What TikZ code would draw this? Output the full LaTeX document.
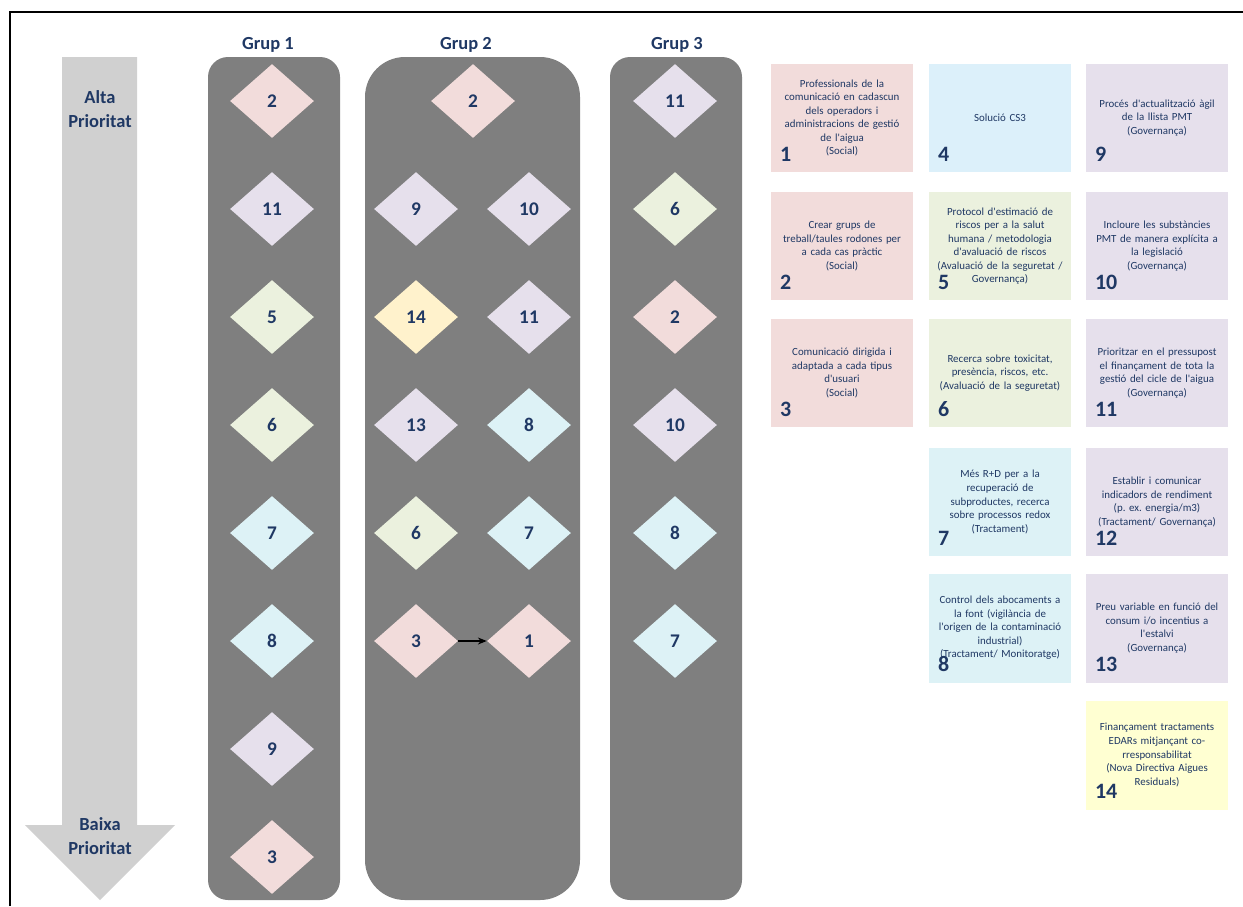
\documentclass[tikz,border=0pt]{standalone}
\usepackage{fontspec}
\setmainfont{Carlito}[Ligatures=TeXOff]
\usetikzlibrary{shapes,arrows.meta}
\frenchspacing

\definecolor{navy}{HTML}{1F3864}
\definecolor{rosa}{HTML}{F2DCDB}
\definecolor{lila}{HTML}{E6E0EC}
\definecolor{verd}{HTML}{EBF1DE}
\definecolor{cian}{HTML}{DDF2F6}
\definecolor{blau}{HTML}{DCF0FA}
\definecolor{groc}{HTML}{FFF2CC}
\definecolor{grocclar}{HTML}{FFFFD2}
\definecolor{columna}{HTML}{7F7F7F}
\definecolor{fletxa}{HTML}{D0D0D0}

\tikzset{
  rombe/.style={diamond, fill=#1, inner sep=0pt, minimum width=1.68cm, minimum height=1.48cm,
    font=\fontsize{11}{13}\selectfont\bfseries, text=navy},
  fitxa/.style={rectangle, fill=#1, inner sep=0pt, minimum width=2.84cm, minimum height=2.18cm,
    text width=2.84cm, align=center, font=\fontsize{6.2}{7.7}\selectfont, text=navy},
  num/.style={anchor=base west, inner sep=0pt, font=\fontsize{12.5}{14}\selectfont\bfseries, text=navy},
  titol/.style={font=\fontsize{10.5}{13.5}\selectfont\bfseries, text=navy, align=center},
}

\begin{document}
\begin{tikzpicture}[x=0.02cm,y=-0.02cm]
  \useasboundingbox (0,0) rectangle (1243,906);
  \newcommand{\colu}{272}
  \newcommand{\colda}{416}
  \newcommand{\coldb}{529}
  \newcommand{\colt}{675}

  % marc
  \draw[line width=0.8pt] (10,906) -- (10,12) -- (1243,12);

  % fletxa de prioritat
  \fill[fletxa] (62,57) -- (137,57) -- (137,825) -- (175,825) -- (100,900) -- (25,825) -- (62,825) -- cycle;
  \node[titol] (alta) at (100,109) {Alta\\Prioritat};
  \node[titol] (baixa) at (100,836) {Baixa\\Prioritat};

  % columnes
  \fill[columna, rounded corners=0.4cm] (208,57) rectangle (340,900);
  \fill[columna, rounded corners=0.8cm] (365,57) rectangle (580,900);
  \fill[columna, rounded corners=0.4cm] (610,57) rectangle (742,900);
  \node[titol] (grup1) at (268,45) {Grup 1};
  \node[titol] (grup2) at (466,45) {Grup 2};
  \node[titol] (grup3) at (677,45) {Grup 3};

  % Grup 1
  \node[rombe=rosa] (ua) at (\colu,101) {2};
  \node[rombe=lila] (ub) at (\colu,209) {11};
  \node[rombe=verd] (uc) at (\colu,317) {5};
  \node[rombe=verd] (ud) at (\colu,425) {6};
  \node[rombe=cian] (ue) at (\colu,533) {7};
  \node[rombe=cian] (uf) at (\colu,641) {8};
  \node[rombe=lila] (ug) at (\colu,749) {9};
  \node[rombe=rosa] (uh) at (\colu,857) {3};

  % Grup 2
  \node[rombe=rosa] (da) at (473,101) {2};
  \node[rombe=lila] (db) at (\colda,209) {9};
  \node[rombe=lila] (dc) at (\coldb,209) {10};
  \node[rombe=groc] (dd) at (\colda,317) {14};
  \node[rombe=lila] (de) at (\coldb,317) {11};
  \node[rombe=lila] (df) at (\colda,425) {13};
  \node[rombe=cian] (dg) at (\coldb,425) {8};
  \node[rombe=verd] (dh) at (\colda,533) {6};
  \node[rombe=cian] (di) at (\coldb,533) {7};
  \node[rombe=rosa] (dj) at (\colda,641) {3};
  \node[rombe=rosa] (dk) at (\coldb,641) {1};
  \draw[-{Stealth[length=5pt,width=4pt]}, line width=0.6pt] (dj.east) -- (dk.west);

  % Grup 3
  \node[rombe=lila] (ta) at (\colt,101) {11};
  \node[rombe=verd] (tb) at (\colt,209) {6};
  \node[rombe=rosa] (tc) at (\colt,317) {2};
  \node[rombe=lila] (td) at (\colt,425) {10};
  \node[rombe=cian] (te) at (\colt,533) {8};
  \node[rombe=cian] (tf) at (\colt,641) {7};

  % fitxes de mesures
  \node[fitxa=rosa] (f1) at (842,118) {Professionals de la\\comunicació en cadascun\\dels operadors i\\administracions de gestió\\de l'aigua\\(Social)};
  \node[fitxa=rosa] (f2) at (842,246) {Crear grups de\\treball/taules rodones per\\a cada cas pràctic\\(Social)};
  \node[fitxa=rosa] (f3) at (842,373) {Comunicació dirigida i\\adaptada a cada tipus\\d'usuari\\(Social)};
  \node[fitxa=blau] (f4) at (1000,118) {Solució CS3};
  \node[fitxa=verd] (f5) at (1000,246) {Protocol d'estimació de\\riscos per a la salut\\humana / metodologia\\d'avaluació de riscos\\(Avaluació de la seguretat /\\Governança)};
  \node[fitxa=verd] (f6) at (1000,373) {Recerca sobre toxicitat,\\presència, riscos, etc.\\(Avaluació de la seguretat)};
  \node[fitxa=cian] (f7) at (1000,502) {Més R+D per a la\\recuperació de\\subproductes, recerca\\sobre processos redox\\(Tractament)};
  \node[fitxa=cian] (f8) at (1000,628) {Control dels abocaments a\\la font (vigilància de\\l'origen de la contaminació\\industrial)\\(Tractament/ Monitoratge)};
  \node[fitxa=lila] (f9) at (1157,118) {Procés d'actualització àgil\\de la llista PMT\\(Governança)};
  \node[fitxa=lila] (f10) at (1157,246) {Incloure les substàncies\\PMT de manera explícita a\\la legislació\\(Governança)};
  \node[fitxa=lila] (f11) at (1157,373) {Prioritzar en el pressupost\\el finançament de tota la\\gestió del cicle de l'aigua\\(Governança)};
  \node[fitxa=lila] (f12) at (1157,502) {Establir i comunicar\\indicadors de rendiment\\(p. ex. energia/m3)\\(Tractament/ Governança)};
  \node[fitxa=lila] (f13) at (1157,628) {Preu variable en funció del\\consum i/o incentius a\\l'estalvi\\(Governança)};
  \node[fitxa=grocclar] (f14) at (1157,755) {Finançament tractaments\\EDARs mitjançant co-\\rresponsabilitat\\(Nova Directiva Aigues\\Residuals)};

  \foreach \k in {1,...,14}
    \node[num] (n\k) at ([shift={(9,-11)}]f\k.south west) {\k};
\end{tikzpicture}
\end{document}
